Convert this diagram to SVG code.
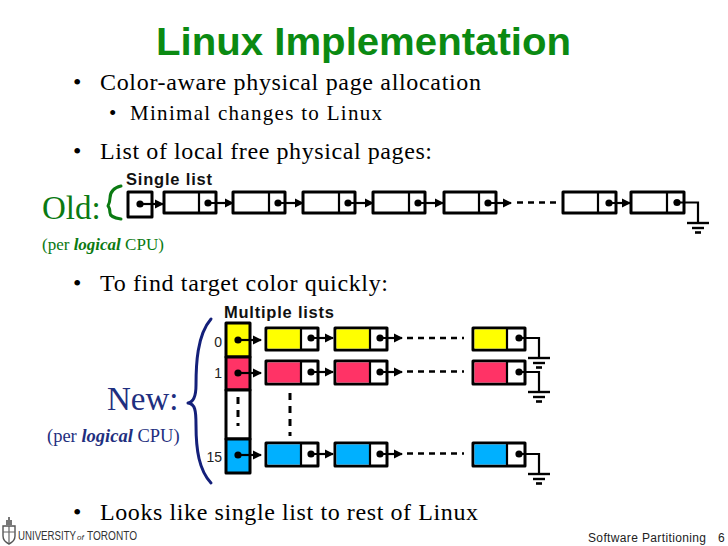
<svg xmlns="http://www.w3.org/2000/svg" width="728" height="546" viewBox="0 0 728 546">
<style>
text{font-family:"Liberation Serif","Times New Roman",serif;fill:#000}
.b1{font-size:24px}.b2{font-size:21px}
.lab{font-family:"Liberation Sans",Arial,sans-serif;font-weight:bold;font-size:16.500px;fill:#111}
.idx{font-family:"Liberation Sans",Arial,sans-serif;font-size:14px;fill:#222}
.foot{font-family:"Liberation Sans",Arial,sans-serif;font-size:12px;fill:#222}
.uni{font-family:"Liberation Sans",Arial,sans-serif;font-size:12.500px;fill:#333}
.g{fill:#0b7a12}.n{fill:#1f2f80}
.box{fill:#fff;stroke:#000;stroke-width:3;stroke-linejoin:round}
.ln{fill:none;stroke:#000;stroke-width:2.2}
.dash{fill:none;stroke:#000;stroke-width:2.4;stroke-dasharray:6 5}
.dashv{fill:none;stroke:#000;stroke-width:3;stroke-dasharray:7 6}
.br{fill:none;stroke-width:3;stroke-linecap:round;stroke-linejoin:round}
.y{fill:#ffff00}.r{fill:#ff3366}.c{fill:#00b0ff}
</style>
<defs>
<marker id="arr" markerUnits="userSpaceOnUse" markerWidth="9" markerHeight="10" refX="8" refY="5" orient="auto"><path d="M0 0.500L9 5L0 9.500z" fill="#000"/></marker>
<circle id="dot" r="3.600" fill="#000"/>
<g id="gnd"><path d="M-11 0H11" stroke="#000" stroke-width="2.400"/><path d="M-6 5H6" stroke="#000" stroke-width="2.400"/><path d="M-3 9.500H3" stroke="#000" stroke-width="2.600"/></g>
</defs>
<rect width="728" height="546" fill="#fff"/>
<text id="title" x="156" y="55" font-size="38" font-weight="bold" textLength="415" lengthAdjust="spacingAndGlyphs" style="font-family:'Liberation Sans',Arial,sans-serif;fill:#0b8a12">Linux Implementation</text>
<g id="bullets">
<text x="73" y="90" class="b1">•</text><text x="100" y="90" class="b1" textLength="381">Color-aware physical page allocation</text>
<text x="109" y="120" class="b2">•</text><text x="130" y="120" class="b2" textLength="252">Minimal changes to Linux</text>
<text x="73" y="159" class="b1">•</text><text x="100" y="159" class="b1" textLength="332">List of local free physical pages:</text>
<text x="73" y="291" class="b1">•</text><text x="100" y="291" class="b1" textLength="288">To find target color quickly:</text>
<text x="73" y="520" class="b1">•</text><text x="100" y="520" class="b1" textLength="378">Looks like single list to rest of Linux</text>
</g>
<g id="old-label">
<text x="42" y="219" class="g" font-size="33">Old:</text>
<text x="42" y="250" class="g" font-size="17">(per <tspan font-weight="bold" font-style="italic">logical</tspan> CPU)</text>
<path class="br" stroke="#0b7a12" d="M121 186C113 188 110 192 110 198C110 202 109 204 108 206C109 207 110 210 110 213C110 215 113 218 121 219"/>
<text x="126" y="185" class="lab" textLength="86">Single list</text>
</g>
<g id="new-label">
<text x="107" y="410" class="n" font-size="33">New:</text>
<text x="47" y="442" class="n" font-size="18.500">(per <tspan font-weight="bold" font-style="italic">logical</tspan> CPU)</text>
<path class="br" stroke="#14207a" d="M211 319C197 335 196 365 196 385C196 393 195 402 188 403C195 404 196 410 196 425C196 450 199 470 211 483"/>
<text x="224" y="318" class="lab" textLength="110">Multiple lists</text>
</g>
<g id="connectors">
<path class="ln" marker-end="url(#arr)" d="M140 204H163"/><path class="ln" marker-end="url(#arr)" d="M208 203H233"/><path class="ln" marker-end="url(#arr)" d="M278 203H303"/><path class="ln" marker-end="url(#arr)" d="M348 203H373"/><path class="ln" marker-end="url(#arr)" d="M418 203H443"/><path class="ln" marker-end="url(#arr)" d="M488 203H511"/><path class="dash" d="M517 202.500H559"/><path class="ln" marker-end="url(#arr)" d="M609 203H630"/><path class="ln" d="M677 202.500H698V223"/>
<path class="ln" marker-end="url(#arr)" d="M311 338H333"/><path class="ln" marker-end="url(#arr)" d="M380 338H402"/><path class="dash" d="M407 338H464"/><path class="ln" d="M519 338H539V358"/>
<path class="ln" marker-end="url(#arr)" d="M311 372H333"/><path class="ln" marker-end="url(#arr)" d="M380 372H402"/><path class="dash" d="M407 371.500H464"/><path class="ln" d="M519 372H539V392"/>
<path class="ln" marker-end="url(#arr)" d="M311 454H333"/><path class="ln" marker-end="url(#arr)" d="M380 454H402"/><path class="dash" d="M407 453.500H464"/><path class="ln" d="M519 454H539V474"/>
<path class="dashv" d="M290 393V436"/>
</g>
<g id="old-head"><rect class="box" x="128" y="192" width="24" height="25"/><path class="ln" d="M140 204H152"/><use href="#dot" x="140" y="204"/></g>
<g id="old-1"><rect class="box" x="164" y="192" width="52" height="21"/><path class="ln" d="M199 192V213M208 203H216"/><use href="#dot" x="208" y="203"/></g>
<g id="old-2"><rect class="box" x="233" y="192" width="52" height="21"/><path class="ln" d="M269 192V213M278 203H285"/><use href="#dot" x="278" y="203"/></g>
<g id="old-3"><rect class="box" x="303" y="192" width="52" height="21"/><path class="ln" d="M339 192V213M348 203H355"/><use href="#dot" x="348" y="203"/></g>
<g id="old-4"><rect class="box" x="373" y="192" width="52" height="21"/><path class="ln" d="M409 192V213M418 203H425"/><use href="#dot" x="418" y="203"/></g>
<g id="old-5"><rect class="box" x="444" y="192" width="52" height="21"/><path class="ln" d="M479 192V213M488 203H496"/><use href="#dot" x="488" y="203"/></g>
<g id="old-6"><rect class="box" x="563" y="192" width="53" height="21"/><path class="ln" d="M598 192V213M609 203H616"/><use href="#dot" x="609" y="203"/></g>
<g id="old-7"><rect class="box" x="631" y="192" width="53" height="21"/><path class="ln" d="M667 192V213M677 202.500H684"/><use href="#dot" x="677" y="202.500"/></g>
<use id="old-ground" href="#gnd" x="698" y="223"/>
<g id="array">
<rect class="box y" x="226" y="323" width="24" height="34"/><rect class="box r" x="226" y="357" width="24" height="33"/><rect class="box" x="226" y="390" width="24" height="49"/><rect class="box c" x="226" y="439" width="24" height="34"/>
<use href="#dot" x="238" y="340"/><use href="#dot" x="238" y="373"/><use href="#dot" x="238" y="455"/>
<path class="dashv" d="M238 397V426"/>
<path class="ln" marker-end="url(#arr)" d="M238 340H261"/><path class="ln" marker-end="url(#arr)" d="M238 373H261"/><path class="ln" marker-end="url(#arr)" d="M238 455H261"/>
<text x="222" y="347" text-anchor="end" class="idx">0</text><text x="222" y="378" text-anchor="end" class="idx">1</text><text x="222" y="462" text-anchor="end" class="idx">15</text>
</g>
<g id="row0-1"><rect class="box" x="266" y="328" width="52" height="22"/><rect class="y" x="267.500" y="329.500" width="33" height="19"/><path class="ln" d="M301 328V350M311 338H318"/><use href="#dot" x="311" y="338"/></g>
<g id="row0-2"><rect class="box" x="335" y="328" width="52" height="22"/><rect class="y" x="336.500" y="329.500" width="33" height="19"/><path class="ln" d="M370 328V350M380 338H387"/><use href="#dot" x="380" y="338"/></g>
<g id="row0-3"><rect class="box" x="473" y="328" width="52" height="22"/><rect class="y" x="474.500" y="329.500" width="32" height="19"/><path class="ln" d="M507 328V350M519 338H525"/><use href="#dot" x="519" y="338"/></g>
<g id="row1-1"><rect class="box" x="266" y="361" width="52" height="23"/><rect class="r" x="267.500" y="362.500" width="33" height="20"/><path class="ln" d="M301 361V384M311 372H318"/><use href="#dot" x="311" y="372"/></g>
<g id="row1-2"><rect class="box" x="335" y="361" width="52" height="23"/><rect class="r" x="336.500" y="362.500" width="33" height="20"/><path class="ln" d="M370 361V384M380 372H387"/><use href="#dot" x="380" y="372"/></g>
<g id="row1-3"><rect class="box" x="473" y="361" width="52" height="23"/><rect class="r" x="474.500" y="362.500" width="32" height="20"/><path class="ln" d="M507 361V384M519 372H525"/><use href="#dot" x="519" y="372"/></g>
<g id="row15-1"><rect class="box" x="266" y="443" width="52" height="23"/><rect class="c" x="267.500" y="444.500" width="33" height="20"/><path class="ln" d="M301 443V466M311 454H318"/><use href="#dot" x="311" y="454"/></g>
<g id="row15-2"><rect class="box" x="335" y="443" width="52" height="23"/><rect class="c" x="336.500" y="444.500" width="33" height="20"/><path class="ln" d="M370 443V466M380 454H387"/><use href="#dot" x="380" y="454"/></g>
<g id="row15-3"><rect class="box" x="473" y="443" width="52" height="23"/><rect class="c" x="474.500" y="444.500" width="32" height="20"/><path class="ln" d="M507 443V466M519 454H525"/><use href="#dot" x="519" y="454"/></g>
<use id="g0" href="#gnd" x="539" y="358"/><use id="g1" href="#gnd" x="539" y="392"/><use id="g15" href="#gnd" x="539" y="474"/>
<g id="footer">
<path d="M3 526H15V536C15 540 11 543 9 544C7 543 3 540 3 536Z" fill="#fff" stroke="#555" stroke-width="1.400"/><path d="M9 526V543M3 532H15" stroke="#666" stroke-width="1.200"/><path d="M6 525V520H8V517H10V520H12V525Z" fill="#777"/>
<text x="18" y="540" class="uni" textLength="58" lengthAdjust="spacingAndGlyphs">UNIVERSITY</text><text x="77" y="540" style="font-family:'Liberation Sans',Arial,sans-serif;font-size:8px;font-style:italic;fill:#333">of</text><text x="87" y="540" class="uni" textLength="50" lengthAdjust="spacingAndGlyphs">TORONTO</text>
<text x="588" y="542" class="foot" textLength="118">Software Partitioning</text>
<text x="718" y="542" class="foot">6</text>
</g>
</svg>
